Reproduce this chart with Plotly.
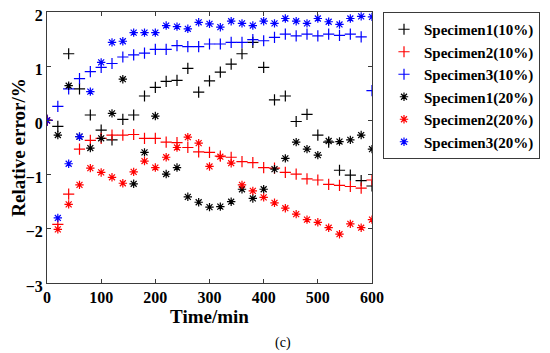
import plotly.graph_objects as go

time_min = [0, 20, 40, 60, 80, 100, 120, 140, 160, 180, 200, 220, 240, 260, 280, 300,
            320, 340, 360, 380, 400, 420, 440, 460, 480, 500, 520, 540, 560, 580, 600]

s1_10 = [0, -0.11, 1.23, 0.58, 0.10, -0.18, -0.36, 0.02, 0.10, 0.45, 0.61, 0.72, 0.74, 0.96, 0.52, 0.73,
         0.89, 1.04, 1.23, 1.44, 0.98, 0.38, 0.45, -0.02, 0.11, -0.27, -0.40, -0.92, -1.01, -1.11, -1.21]
s2_10 = [0, -1.92, -1.36, -0.53, -0.37, -0.33, -0.27, -0.27, -0.26, -0.33, -0.33, -0.40, -0.41, -0.50, -0.58, -0.59,
         -0.66, -0.68, -0.76, -0.78, -0.87, -0.88, -0.96, -0.99, -1.08, -1.10, -1.18, -1.20, -1.22, -1.25, -1.10]
s3_10 = [0, 0.26, 0.58, 0.77, 0.90, 0.98, 1.05, 1.17, 1.21, 1.24, 1.31, 1.31, 1.38, 1.36, 1.36, 1.41,
         1.41, 1.44, 1.44, 1.49, 1.47, 1.53, 1.59, 1.56, 1.59, 1.56, 1.59, 1.57, 1.59, 1.54, 0.55]
s1_20 = [0, -0.27, 0.64, -0.30, -0.51, -0.33, 0.13, 0.76, -1.17, -0.59, 0.08, -0.99, -0.87, -1.41, -1.51, -1.60,
         -1.59, -1.50, -1.27, -1.44, -1.27, -0.90, -0.70, -0.40, -0.53, -0.64, -0.38, -0.39, -0.36, -0.27, -0.53]
s2_20 = [0, -2.01, -1.55, -1.19, -0.88, -0.96, -1.05, -1.16, -0.95, -0.75, -0.87, -0.68, -0.50, -0.31, -0.42, -0.85,
         -0.67, -0.79, -1.19, -1.30, -1.42, -1.52, -1.62, -1.73, -1.83, -1.88, -1.98, -2.10, -1.91, -1.98, -1.83]
s3_20 = [0, -1.80, -0.80, -0.30, 0.53, 1.07, 1.44, 1.46, 1.62, 1.62, 1.62, 1.75, 1.73, 1.69, 1.81, 1.78,
         1.72, 1.83, 1.79, 1.75, 1.83, 1.79, 1.88, 1.83, 1.79, 1.88, 1.82, 1.77, 1.88, 1.92, 1.91]

series_names = ["Specimen1(10%)", "Specimen2(10%)", "Specimen3(10%)",
                "Specimen1(20%)", "Specimen2(20%)", "Specimen3(20%)"]
series_values = [s1_10, s2_10, s3_10, s1_20, s2_20, s3_20]
series_colors = ["#000000", "#ff0000", "#0000ff", "#000000", "#ff0000", "#0000ff"]
series_symbols = ["cross-thin-open", "cross-thin-open", "cross-thin-open",
                  "asterisk-open", "asterisk-open", "asterisk-open"]

x_ticks = [0, 100, 200, 300, 400, 500, 600]
y_ticks = [-3, -2, -1, 0, 1, 2]

SERIF = "Liberation Serif, Times New Roman, serif"

# the page body has an 8px margin; figure sized to fill the rest of the window
W, H = 542, 345
L, T = 39, 4
PW, PH = 325, 271
R, B = W - L - PW, H - T - PH

fig = go.Figure()
for name, vals, col, sym in zip(series_names, series_values, series_colors, series_symbols):
    fig.add_trace(go.Scatter(
        x=time_min, y=vals, mode="markers", name=name,
        marker=dict(symbol=sym, size=8 if sym.startswith("cross") else 7,
                    color=col, line=dict(color=col, width=1.2)),
    ))

axis_common = dict(
    showgrid=False, zeroline=False, showline=True, linecolor="#3a3a3a", linewidth=1,
    mirror="ticks", ticks="inside", ticklen=4, tickcolor="#3a3a3a", automargin=False,
    ticklabeloverflow="allow",
    tickfont=dict(family=SERIF, size=16, color="#000000", weight="bold"),
)

fig.update_layout(
    width=W, height=H,
    margin=dict(l=L, r=R, t=T, b=B, autoexpand=False),
    paper_bgcolor="white", plot_bgcolor="white",
    xaxis=dict(range=[0, 600], tickvals=x_ticks, **axis_common,
               title=dict(text="Time/min", font=dict(family=SERIF, size=19, color="#000000", weight="bold"),
                          standoff=3)),
    yaxis=dict(range=[-3, 2], tickvals=y_ticks, ticklabelshift=3, **axis_common,
               title=dict(text="Relative error/%", font=dict(family=SERIF, size=19, color="#000000", weight="bold"),
                          standoff=5)),
    legend=dict(x=(375 - L) / PW, y=1.0, xanchor="left", yanchor="top",
                bordercolor="#3a3a3a", borderwidth=1, bgcolor="white",
                font=dict(family=SERIF, size=15, color="#000000", weight="bold"),
                tracegroupgap=0, itemwidth=30),
    showlegend=True,
    annotations=[dict(text="(c)", x=(275 - L) / PW, y=(T + PH - 335) / PH, xref="paper", yref="paper",
                      showarrow=False, xanchor="center", yanchor="middle",
                      font=dict(family=SERIF, size=14, color="#000000"))],
)

fig.write_html("out.html")
